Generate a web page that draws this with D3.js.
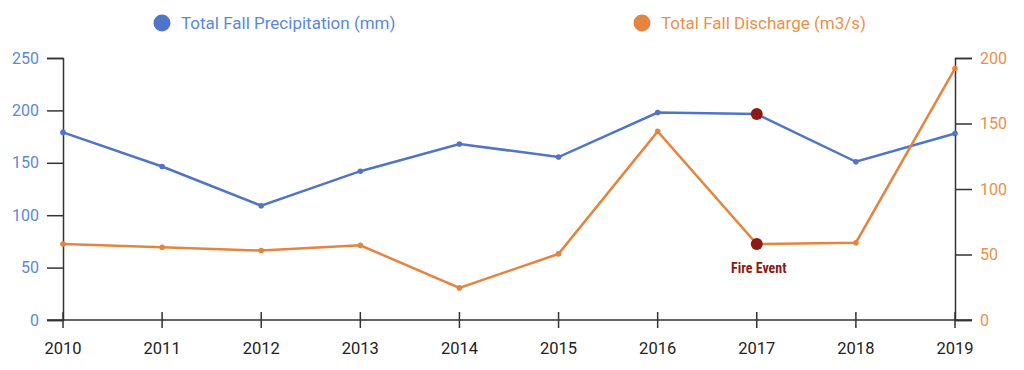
<!DOCTYPE html>
<html lang="en">
<head>
<meta charset="UTF-8">
<title>Fall Precipitation & Discharge</title>
<script src="https://d3js.org/d3.v7.min.js"></script>
<style>
    body { margin: 0; background: #fff; }
    text { font-family: Roboto, "Noto Sans", sans-serif; }
</style>
</head>
<body>
<script>
    // data
    const years = [2010, 2011, 2012, 2013, 2014, 2015, 2016, 2017, 2018, 2019]
    const precipitation = [179, 146.5, 109, 142, 168, 155.5, 198, 196.5, 151, 178]
    const discharge = [58, 55.5, 53, 57, 24.5, 50.5, 144, 58, 59, 192]
    const leftTicks = [0, 50, 100, 150, 200, 250]
    const rightTicks = [0, 50, 100, 150, 200]
    const fireYear = 2017

    const blue = "#4f74c8"
    const orange = "#e4843f"
    const fireColor = "#8c1a12"

    const width = 1024, height = 370
    const plotLeft = 63, plotRight = 955, plotTop = 58, plotBottom = 320

    const svg = d3.select("body").append("svg")
        .attr("width", width)
        .attr("height", height)

    const x = d3.scaleLinear().domain([2010, 2019]).range([plotLeft, plotRight])
    const yL = d3.scaleLinear().domain([0, 250]).range([plotBottom, plotTop])
    const yR = d3.scaleLinear().domain([0, 200]).range([plotBottom, plotTop])

    // x axis: ticks crossing the baseline
    const xAxis = svg.append("g").attr("transform", `translate(0,${plotBottom})`)
    xAxis.append("line")
        .attr("x1", plotLeft - 16).attr("x2", plotRight + 17)
        .attr("stroke", "#333").attr("stroke-width", 1.5)
    xAxis.selectAll(".xt").data(years).enter().append("line")
        .attr("x1", d => x(d)).attr("x2", d => x(d))
        .attr("y1", -8).attr("y2", 8)
        .attr("stroke", "#333").attr("stroke-width", 1.5)
    xAxis.selectAll(".xl").data(years).enter().append("text")
        .attr("x", d => x(d)).attr("y", 34)
        .attr("text-anchor", "middle")
        .attr("font-size", 16.5)
        .attr("fill", "#222")
        .text(d => d)

    // left axis
    const axL = svg.append("g").attr("transform", `translate(${plotLeft},0)`)
        .call(d3.axisLeft(yL).tickValues(leftTicks).tickSize(16).tickPadding(8))
    axL.select(".domain").attr("stroke", "#333").attr("stroke-width", 1.5)
    axL.selectAll(".tick line").attr("stroke", "#333").attr("stroke-width", 1.5)
    axL.selectAll(".tick text").attr("font-size", 16).attr("fill", "#5b88d8")
        .attr("font-family", "Roboto, sans-serif")

    // right axis
    const axR = svg.append("g").attr("transform", `translate(${plotRight},0)`)
        .call(d3.axisRight(yR).tickValues(rightTicks).tickSize(17).tickPadding(8))
    axR.select(".domain").attr("stroke", "#333").attr("stroke-width", 1.5)
    axR.selectAll(".tick line").attr("stroke", "#333").attr("stroke-width", 1.5)
    axR.selectAll(".tick text").attr("font-size", 16).attr("fill", "#e8904c")
        .attr("font-family", "Roboto, sans-serif")

    // lines
    const lineL = d3.line().x((d, i) => x(years[i])).y(d => yL(d))
    const lineR = d3.line().x((d, i) => x(years[i])).y(d => yR(d))

    svg.append("path").datum(precipitation)
        .attr("d", lineL).attr("fill", "none")
        .attr("stroke", blue).attr("stroke-width", 2.5)
    svg.append("path").datum(discharge)
        .attr("d", lineR).attr("fill", "none")
        .attr("stroke", orange).attr("stroke-width", 2.5)

    svg.selectAll(".pb").data(precipitation).enter().append("circle")
        .attr("cx", (d, i) => x(years[i])).attr("cy", d => yL(d))
        .attr("r", 2.8).attr("fill", blue)
    svg.selectAll(".po").data(discharge).enter().append("circle")
        .attr("cx", (d, i) => x(years[i])).attr("cy", d => yR(d))
        .attr("r", 2.8).attr("fill", orange)

    // fire event markers
    const fi = years.indexOf(fireYear)
    svg.append("circle")
        .attr("cx", x(fireYear)).attr("cy", yL(precipitation[fi]))
        .attr("r", 6).attr("fill", fireColor)
    svg.append("circle")
        .attr("cx", x(fireYear)).attr("cy", yR(discharge[fi]))
        .attr("r", 6).attr("fill", fireColor)
    svg.append("text")
        .attr("x", x(fireYear) + 2).attr("y", yR(discharge[fi]) + 29)
        .attr("text-anchor", "middle")
        .attr("font-size", 14).attr("font-weight", "bold")
        .attr("fill", fireColor)
        .style("font-stretch", "condensed")
        .text("Fire Event")

    // legend
    const legend = [
        { label: "Total Fall Precipitation (mm)", color: blue, text: "#5b88d8", cx: 162 },
        { label: "Total Fall Discharge (m3/s)", color: orange, text: "#e8904c", cx: 642 }
    ]
    legend.forEach(l => {
        svg.append("circle").attr("cx", l.cx).attr("cy", 23).attr("r", 8.5).attr("fill", l.color)
        svg.append("text").attr("x", l.cx + 19).attr("y", 29)
            .attr("font-size", 17).attr("fill", l.text).text(l.label)
    })
</script>
</body>
</html>
